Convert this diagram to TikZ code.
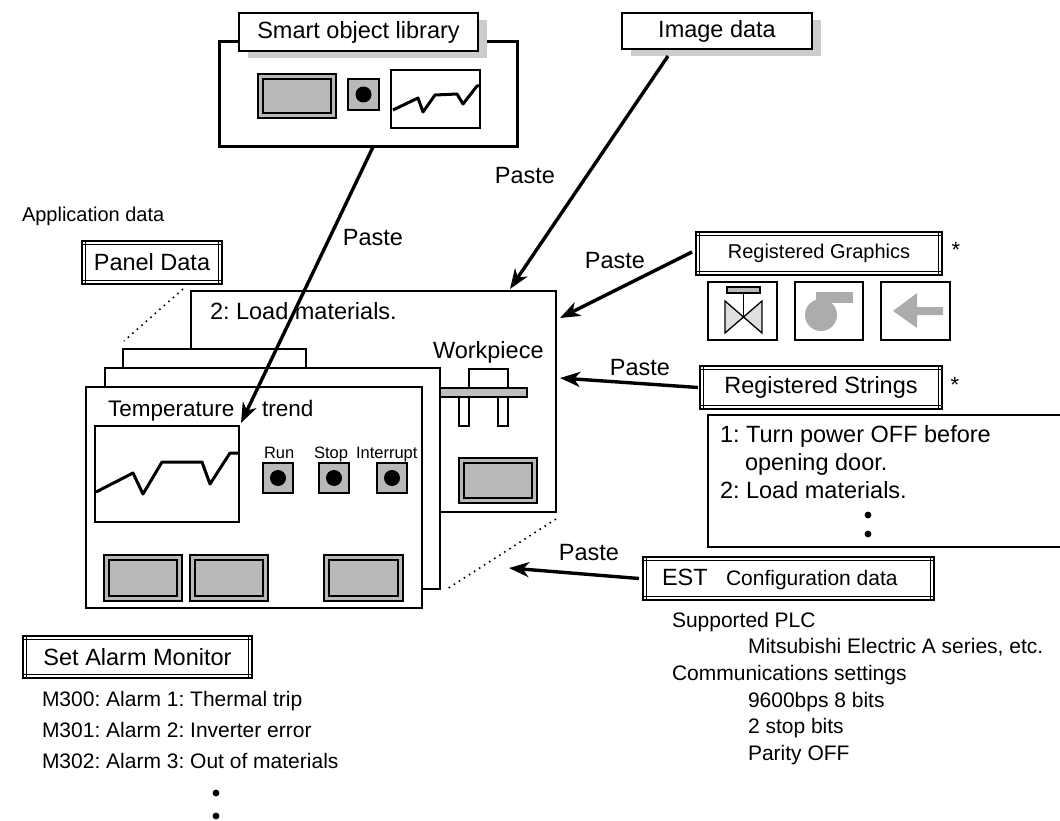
\documentclass[tikz,border=0pt]{standalone}
\usepackage{fontspec}
\setmainfont{Liberation Sans}
\usetikzlibrary{arrows.meta,shadows}
\frenchspacing

\newcommand\fsBig{\fontsize{23.5}{28}\selectfont}
\newcommand\fsMid{\fontsize{21}{26}\selectfont}
\newcommand\fsReg{\fontsize{20}{24}\selectfont}
\newcommand\fsSmall{\fontsize{16.5}{20}\selectfont}

\begin{document}
\begin{tikzpicture}[x=1pt,y=-1pt,
  every node/.style={inner sep=0pt, outer sep=0pt},
  box/.style={draw, fill=white, line width=1.3pt, anchor=north west},
  shadowbox/.style={box, line width=1.6pt,
    drop shadow={shadow xshift=9pt, shadow yshift=-7pt, fill=gray!40, draw=none, opacity=1}},
  dbox/.style={box, line width=1.1pt,
    path picture={
      \draw[black, line width=1.1pt]
        ([yshift=-3.5pt]path picture bounding box.north west) -- ([yshift=-3.5pt]path picture bounding box.north east)
        ([yshift=3.5pt]path picture bounding box.south west) -- ([yshift=3.5pt]path picture bounding box.south east)
        ([xshift=3.5pt]path picture bounding box.north west) -- ([xshift=3.5pt]path picture bounding box.south west)
        ([xshift=-3.5pt]path picture bounding box.north east) -- ([xshift=-3.5pt]path picture bounding box.south east);}},
  panel/.style={draw, fill=white, line width=1.2pt, anchor=north west},
  bigbtn/.style={draw, line width=1.4pt, fill=gray!55, anchor=north west,
    path picture={\draw[draw=black, line width=2.6pt, fill=gray!55]
      ([shift={(5pt,5pt)}]path picture bounding box.south west) rectangle
      ([shift={(-5pt,-5pt)}]path picture bounding box.north east);}},
  smallbtn/.style={draw, line width=1.4pt, fill=gray!55, anchor=north west,
    minimum width=30pt, minimum height=30pt,
    path picture={\fill[black] (path picture bounding box.center) circle (8pt);}},
  graphbox/.style={draw, fill=white, line width=1.3pt, anchor=north west},
  trend/.style={line width=3pt, line join=round},
  paste/.style={line width=3.4pt, -{Stealth[length=20pt,width=15pt,inset=6pt]}},
  linkdots/.style={line width=1.6pt, dash pattern=on 1.6pt off 4.4pt},
  txt/.style={anchor=base west, font=\fsBig},
  listtxt/.style={anchor=base west, font=\fsMid},
  btnlbl/.style={anchor=base west, font=\fsSmall},
  pastelbl/.style={font=\fsBig},
  starmark/.style={anchor=base, font=\fontsize{22}{24}\selectfont},
  icon/.style={draw, fill=white, line width=1.3pt, anchor=north west, minimum width=69pt, minimum height=58pt}
]
\useasboundingbox (0,0) rectangle (1060,821);

% ---------- smart object library ----------
\node[draw, line width=3pt, anchor=north west, minimum width=298pt, minimum height=105pt] (smartwin) at (219,42) {};
\node[shadowbox, minimum width=239pt, minimum height=38pt] (smarttitle) at (239,13) {\fsBig Smart object library};
\node[bigbtn, minimum width=78pt, minimum height=44pt] (sbtn1) at (258,74) {};
\node[smallbtn, minimum width=31pt, minimum height=31pt] (sbtn2) at (348,79) {};
\node[graphbox, minimum width=89pt, minimum height=58pt] (sgraph) at (391,70) {};
\draw[trend] (393,110) -- (418,98) -- (423,112) -- (435,95) -- (457,94) -- (463,104) -- (477,86) -- (480,86);

% ---------- image data ----------
\node[shadowbox, minimum width=190pt, minimum height=36pt] (imgdata) at (622,13) {\fsBig Image data};

% ---------- application data ----------
\node[txt, font=\fsReg] (appdata) at (22,222) {Application data};
\node[dbox, minimum width=140pt, minimum height=43pt] (paneldata) at (82,241) {\fsBig Panel Data};

% ---------- stacked screens ----------
\node[panel, minimum width=365pt, minimum height=221pt] (p1) at (191,291) {};
\node[txt] (loadtxt) at (210,319) {2: Load materials.};
\node[txt] (worktxt) at (433,358) {Workpiece};
\draw[line width=1.3pt, fill=white] (469,369) rectangle (508,388);
\draw[line width=1.3pt, fill=white] (459,397) rectangle (469,426);
\draw[line width=1.3pt, fill=white] (498,397) rectangle (508,426);
\draw[line width=1.3pt, fill=gray!50] (420,388) rectangle (527,397);
\node[bigbtn, minimum width=78pt, minimum height=45pt] (wbtn) at (459,458) {};

\node[panel, minimum width=183pt, minimum height=100pt] (p2) at (123,349) {};
\node[panel, minimum width=335pt, minimum height=221pt] (p3) at (105,368) {};
\node[panel, minimum width=336pt, minimum height=221pt] (p4) at (86,387) {};

\node[txt, font=\fontsize{22.5}{26}\selectfont] (temptxt) at (108,416) {Temperature};
\node[txt, font=\fontsize{22.5}{26}\selectfont] (trendtxt) at (262,416) {trend};
\node[graphbox, minimum width=144pt, minimum height=96pt] (trendgraph) at (95,426) {};
\draw[trend] (96,492) -- (133,473) -- (143,494) -- (162,462) -- (202,462) -- (210,484) -- (230,453) -- (239,453);

\node[btnlbl] (runlbl) at (264,458) {Run};
\node[btnlbl] (stoplbl) at (314,458) {Stop};
\node[btnlbl] (intlbl) at (356,458) {Interrupt};
\node[smallbtn] (runbtn) at (263,463) {};
\node[smallbtn] (stopbtn) at (319,463) {};
\node[smallbtn] (intbtn) at (377,463) {};

\node[bigbtn, minimum width=78pt, minimum height=46pt] (fbtn1) at (104,555) {};
\node[bigbtn, minimum width=78pt, minimum height=46pt] (fbtn2) at (190,555) {};
\node[bigbtn, minimum width=79pt, minimum height=46pt] (fbtn3) at (324,555) {};

% dotted links from panel data to the screens
\draw[linkdots] ([xshift=-39pt,yshift=-5pt]paneldata.south east) -- ([shift={(1pt,8pt)}]p2.north west);
\draw[linkdots] ([yshift=-7pt]p1.south east) -- ([xshift=7pt]p3.south east);

% ---------- registered graphics ----------
\node[dbox, minimum width=246pt, minimum height=43pt] (reggfx) at (696,232) {\fsReg Registered Graphics};
\node[starmark] (gstar) at (956,257) {*};
\node[icon] (valve) at (708,282) {};
\node[icon, minimum width=68pt] (pump) at (795,282) {};
\node[icon] (leftarrow) at (881,282) {};
\draw[line width=1.3pt, fill=gray!55] (727,287) rectangle (760,293);
\draw[line width=1.3pt] (743.5,293) -- (743.5,317);
\draw[line width=1.3pt, fill=gray!25, line join=miter] (725,301) -- (725,333) -- (743.5,317) -- cycle;
\draw[line width=1.3pt, fill=gray!25, line join=miter] (762,301) -- (762,333) -- (743.5,317) -- cycle;
\fill[gray!65] (821,315) circle (16pt);
\fill[gray!65] (816,292) rectangle (853,303);
\fill[gray!65] (893,311) -- (917,293) -- (917,307) -- (943,307) -- (943,315) -- (917,315) -- (917,328) -- cycle;

% ---------- registered strings ----------
\node[dbox, minimum width=242pt, minimum height=43pt] (regstr) at (700,366) {\fsBig Registered Strings};
\node[starmark] (sstar) at (955,392) {*};
\node[box, minimum width=370pt, minimum height=132pt] (strlist) at (708,415) {};
\node[txt] (str1) at (720,442) {1: Turn power OFF before};
\node[txt] (str1b) at (745,470) {opening door.};
\node[txt] (str2) at (720,498) {2: Load materials.};
\fill (868,515) circle (3.4pt);
\fill (868,534) circle (3.4pt);

% ---------- configuration data ----------
\node[dbox, minimum width=291pt, minimum height=43pt] (est) at (643,557) {};
\node[txt] (esttxt) at (662,585) {EST};
\node[listtxt] (conftxt) at (726,585) {Configuration data};
\node[listtxt] (c1) at (672,627) {Supported PLC};
\node[listtxt] (c2) at (748,653) {Mitsubishi Electric A series, etc.};
\node[listtxt] (c3) at (672,680) {Communications settings};
\node[listtxt] (c4) at (748,707) {9600bps 8 bits};
\node[listtxt] (c5) at (748,733) {2 stop bits};
\node[listtxt] (c6) at (748,760) {Parity OFF};

% ---------- alarm monitor ----------
\node[dbox, minimum width=229pt, minimum height=42pt] (alarm) at (23,636) {\fsBig Set Alarm Monitor};
\node[listtxt] (m1) at (42,706) {M300: Alarm 1: Thermal trip};
\node[listtxt] (m2) at (42,737) {M301: Alarm 2: Inverter error};
\node[listtxt] (m3) at (42,768) {M302: Alarm 3: Out of materials};
\fill (216,793) circle (3.4pt);
\fill (216,816) circle (3.4pt);

% ---------- paste arrows ----------
\coordinate (estdrop) at (509,568);
\draw[paste] ([xshift=5pt]smartwin.south) -- ([shift={(2pt,3pt)}]trendgraph.north east);
\node[pastelbl] (paste1) at (373,238) {Paste};
\draw[paste] ([shift={(-49pt,-7pt)}]imgdata.south) -- ([xshift=-46pt,yshift=2pt]p1.north east);
\node[pastelbl] (paste2) at (525,176) {Paste};
\draw[paste] ([shift={(-4pt,1.5pt)}]reggfx.west) -- ([shift={(4pt,83.5pt)}]p1.east);
\node[pastelbl] (paste3) at (615,261) {Paste};
\draw[paste] ([xshift=-2pt]regstr.west) -- ([shift={(4pt,23.5pt)}]p1.east);
\node[pastelbl] (paste4) at (640,368) {Paste};
\draw[paste] ([xshift=-4pt]est.west) -- (estdrop);
\node[pastelbl] (paste5) at (589,553) {Paste};
\end{tikzpicture}
\end{document}
